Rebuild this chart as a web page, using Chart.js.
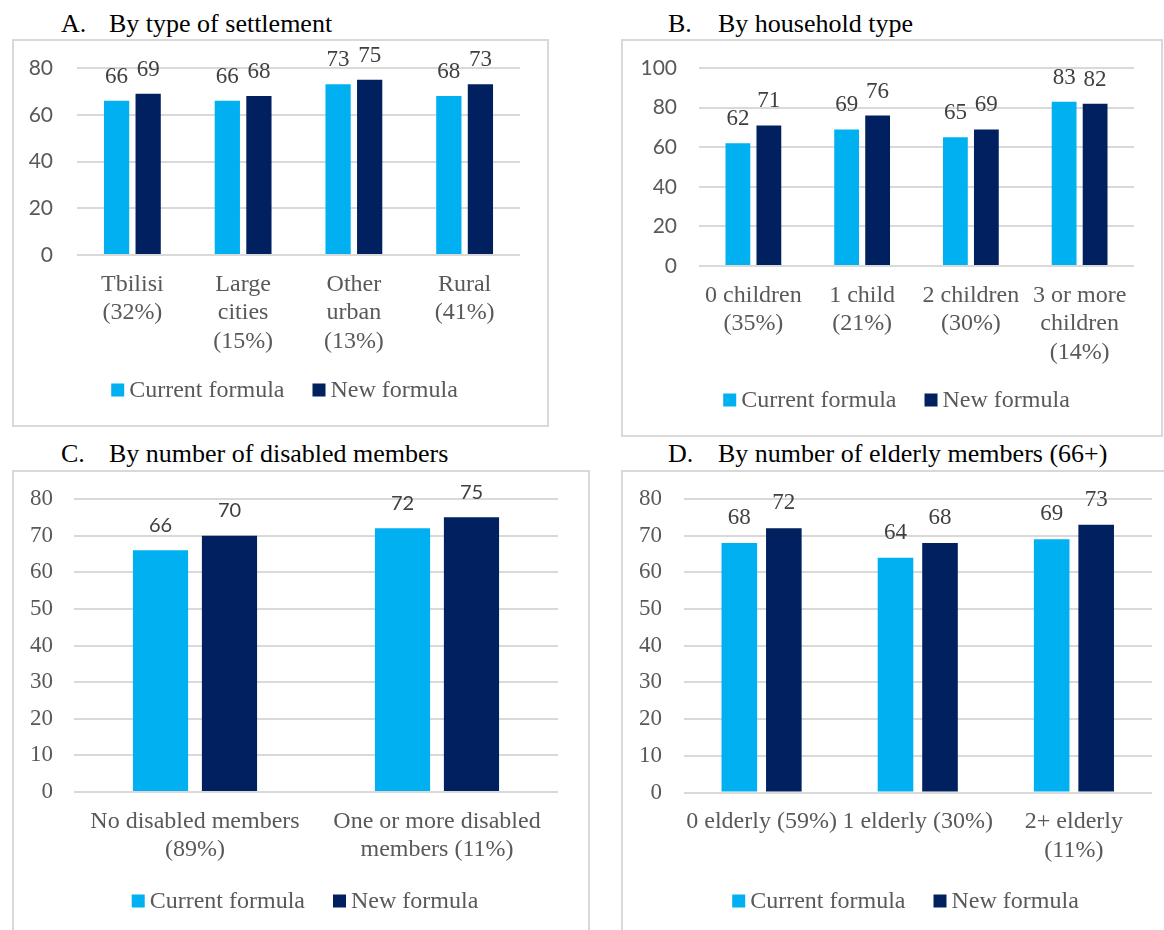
<!DOCTYPE html>
<html>
<head>
<meta charset="utf-8">
<script src="https://cdn.jsdelivr.net/npm/chart.js@4/dist/chart.umd.min.js"></script>
<style>
  html, body { margin: 0; padding: 0; background: #fff; width: 1164px; height: 930px; overflow: hidden; }
  .ttl { position: absolute; font: 26px/26px "Liberation Serif", "Times New Roman", serif; color: #000; white-space: nowrap; }
  .ttl span { display: inline-block; }
  .box { position: absolute; border: 2px solid #d9d9d9; box-sizing: border-box; }
  .box canvas { display: block; }
</style>
</head>
<body>
<div class="ttl" style="left:61px;top:11px"><span style="width:48px">A.</span>By type of settlement</div>
<div class="box" style="left:12px;top:39px;width:537px;height:388px"><canvas id="chartA" width="533" height="384"></canvas></div>

<div class="ttl" style="left:668px;top:11px"><span style="width:50px">B.</span>By household type</div>
<div class="box" style="left:621px;top:39px;width:542px;height:398px"><canvas id="chartB" width="538" height="394"></canvas></div>

<div class="ttl" style="left:61px;top:441px"><span style="width:48px">C.</span>By number of disabled members</div>
<div class="box" style="left:12px;top:470px;width:578px;height:490px"><canvas id="chartC" width="574" height="486"></canvas></div>

<div class="ttl" style="left:668px;top:441px"><span style="width:50px">D.</span>By number of elderly members (66+)</div>
<div class="box" style="left:621px;top:470px;width:560px;height:490px"><canvas id="chartD" width="556" height="486"></canvas></div>

<script>
const seriesNames = ["Current formula", "New formula"];
const seriesColors = ["#00b0f0", "#002060"];

// A. settlement type
const settlementLabels = [["Tbilisi", "(32%)"], ["Large", "cities", "(15%)"], ["Other", "urban", "(13%)"], ["Rural", "(41%)"]];
const settlementCurrent = [66, 66, 73, 68];
const settlementNew = [69, 68, 75, 73];

// B. household type
const householdLabels = [["0 children", "(35%)"], ["1 child", "(21%)"], ["2 children", "(30%)"], ["3 or more", "children", "(14%)"]];
const householdCurrent = [62, 69, 65, 83];
const householdNew = [71, 76, 69, 82];

// C. disabled members
const disabledLabels = [["No disabled members", "(89%)"], ["One or more disabled", "members (11%)"]];
const disabledCurrent = [66, 72];
const disabledNew = [70, 75];

// D. elderly members
const elderlyLabels = ["0 elderly (59%)", "1 elderly (30%)", ["2+ elderly", "(11%)"]];
const elderlyCurrent = [68, 64, 69];
const elderlyNew = [72, 68, 73];

const SERIF = '"Liberation Serif", "Times New Roman", serif';
const SANS = 'Lato, "Open Sans", sans-serif';
const GREY = "#595959";

// writes each bar's value above it
function valueLabels(font, offset) {
  return {
    id: "valueLabels",
    afterDatasetsDraw(chart) {
      const ctx = chart.ctx;
      ctx.save();
      ctx.font = font;
      ctx.fillStyle = "#404040";
      ctx.textAlign = "center";
      ctx.textBaseline = "middle";
      chart.data.datasets.forEach((ds, i) => {
        chart.getDatasetMeta(i).data.forEach((bar, j) => {
          ctx.fillText(String(ds.data[j]), bar.x, bar.y - offset);
        });
      });
      ctx.restore();
    }
  };
}

// one-row legend under the axis: small square, short gap, series name
function legendRow(cx, cy) {
  return {
    id: "legendRow",
    afterDraw(chart) {
      const ctx = chart.ctx;
      const sq = 13, gap = 5, spacing = 28;
      ctx.save();
      ctx.font = "24px " + SERIF;
      ctx.textBaseline = "middle";
      ctx.textAlign = "left";
      const items = chart.data.datasets.map(ds => ({
        text: ds.label, color: ds.backgroundColor, w: ctx.measureText(ds.label).width
      }));
      const total = items.reduce((s, it) => s + sq + gap + it.w, 0) + spacing * (items.length - 1);
      let x = cx - total / 2;
      items.forEach(it => {
        ctx.fillStyle = it.color;
        ctx.fillRect(x, cy - sq / 2, sq, sq);
        x += sq + gap;
        ctx.fillStyle = GREY;
        ctx.fillText(it.text, x, cy + 1);
        x += it.w + spacing;
      });
      ctx.restore();
    }
  };
}

function drawPanel(id, labels, current, next, o) {
  new Chart(document.getElementById(id), {
    type: "bar",
    data: {
      labels: labels,
      datasets: [current, next].map((vals, i) => ({
        label: seriesNames[i],
        data: vals,
        backgroundColor: seriesColors[i],
        categoryPercentage: 0.57,
        barPercentage: 0.8
      }))
    },
    options: {
      responsive: false,
      animation: false,
      devicePixelRatio: 1,
      layout: { padding: o.pad },
      scales: {
        x: {
          grid: { display: false, drawTicks: false },
          border: { display: false },
          ticks: {
            color: GREY, padding: 15, autoSkip: false, maxRotation: 0,
            font: { family: SERIF, size: 24, lineHeight: 1.2 }
          },
          afterFit: s => { s.height = o.xH; }
        },
        y: {
          min: 0, max: o.yMax,
          grid: { color: "#d9d9d9", lineWidth: 2, drawTicks: true, tickLength: o.yGap - 10, tickColor: "rgba(0,0,0,0)" },
          border: { display: false },
          ticks: { stepSize: o.step, color: GREY, padding: 10, font: o.tickFont },
          afterFit: s => { s.width = o.yW; }
        }
      },
      plugins: {
        tooltip: { enabled: false },
        legend: { display: false }
      }
    },
    plugins: [valueLabels(o.labelFont, o.labelOffset), legendRow(o.legendX, o.legendY)]
  });
}

drawPanel("chartA", settlementLabels, settlementCurrent, settlementNew, {
  yMax: 80, step: 20, pad: { left: 0, right: 27, top: 27, bottom: 60 },
  yW: 63, yGap: 24, xH: 110, legendX: 270.5, legendY: 349,
  tickFont: { family: SANS, size: 21 }, labelFont: "23px " + SERIF, labelOffset: 24
});

drawPanel("chartB", householdLabels, householdCurrent, householdNew, {
  yMax: 100, step: 20, pad: { left: 0, right: 27, top: 27, bottom: 59 },
  yW: 76, yGap: 22, xH: 110, legendX: 273.5, legendY: 359,
  tickFont: { family: SANS, size: 21 }, labelFont: "23px " + SERIF, labelOffset: 24
});

drawPanel("chartC", disabledLabels, disabledCurrent, disabledNew, {
  yMax: 80, step: 10, pad: { left: 0, right: 30, top: 27, bottom: 76 },
  yW: 60, yGap: 21, xH: 90, legendX: 291, legendY: 429,
  tickFont: { family: SERIF, size: 23 }, labelFont: "20px " + SANS, labelOffset: 25
});

drawPanel("chartD", elderlyLabels, elderlyCurrent, elderlyNew, {
  yMax: 80, step: 10, pad: { left: 0, right: 27, top: 27, bottom: 75.5 },
  yW: 60.5, yGap: 21.5, xH: 90, legendX: 282.5, legendY: 429,
  tickFont: { family: SERIF, size: 23 }, labelFont: "23px " + SERIF, labelOffset: 25
});
</script>
</body>
</html>
